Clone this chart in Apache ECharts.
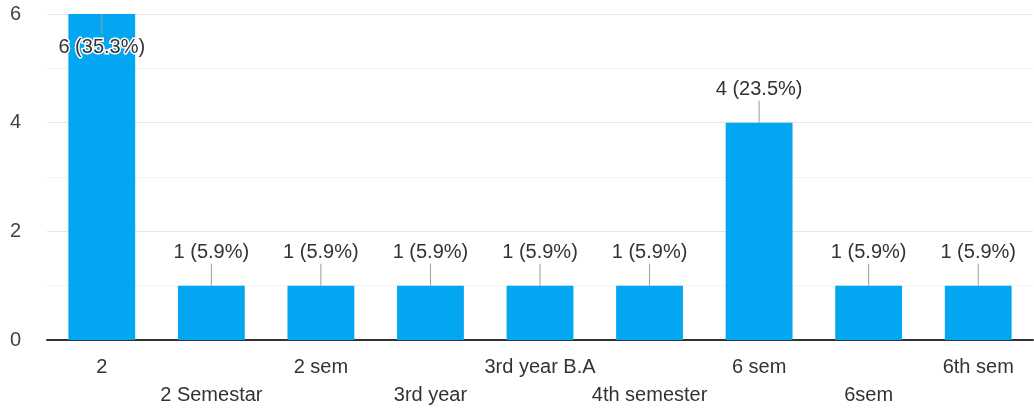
<!DOCTYPE html>
<html>
<head>
<meta charset="utf-8">
<script src="https://cdn.jsdelivr.net/npm/echarts@6/dist/echarts.min.js"></script>
<style>
  html, body { margin: 0; padding: 0; background: #fff; }
  #chart { width: 1034px; height: 412px; }
</style>
</head>
<body>
<div id="chart"></div>
<script>
// Responses per semester
const categories = ['2', '2 Semestar', '2 sem', '3rd year', '3rd year B.A', '4th semester', '6 sem', '6sem', '6th sem'];
const counts = [6, 1, 1, 1, 1, 1, 4, 1, 1];
const yTicks = [0, 2, 4, 6];

const total = counts.reduce((a, b) => a + b, 0);
const maxCount = Math.max(...counts);
const pct = v => (v / total * 100).toFixed(1);

const FONT = '"Liberation Sans", Arial, sans-serif';
const BAR_COLOR = '#03a6f0';
const LEADER = 22;

const chart = echarts.init(document.getElementById('chart'));

chart.setOption({
  animation: false,
  backgroundColor: '#fff',
  grid: { left: 47, right: 1, top: 14, bottom: 72 },
  xAxis: {
    type: 'category',
    data: categories,
    axisTick: { show: false },
    axisLine: { lineStyle: { color: '#333', width: 2 } },
    axisLabel: {
      interval: 0,
      margin: 13,
      color: '#333',
      fontFamily: FONT,
      fontSize: 20,
      lineHeight: 28,
      formatter: (v, i) => (i % 2 ? '\n' + v : v)
    }
  },
  yAxis: {
    type: 'value',
    min: yTicks[0],
    max: yTicks[yTicks.length - 1],
    interval: 2,
    axisLine: { show: false },
    axisTick: { show: false },
    axisLabel: { color: '#444', fontFamily: FONT, fontSize: 20, margin: 26 },
    splitLine: { lineStyle: { color: '#e6e6e6', width: 1 } },
    minorTick: { show: false, splitNumber: 2 },
    minorSplitLine: { show: true, lineStyle: { color: '#f3f3f3', width: 1 } }
  },
  series: [
    {
      type: 'bar',
      data: counts.map(v => {
        const inside = v === maxCount;
        return {
          value: v,
          label: inside
            ? { position: 'insideTop', distance: LEADER + 1 }
            : { position: 'top', distance: LEADER + 1 }
        };
      }),
      barWidth: '61%',
      itemStyle: { color: BAR_COLOR },
      label: {
        show: true,
        color: '#333',
        fontFamily: FONT,
        fontSize: 20,
        textBorderColor: '#fff',
        textBorderWidth: 3,
        formatter: p => p.value + ' (' + pct(p.value) + '%)'
      },
      z: 2
    },
    {
      // Leader lines between each bar top and its value label
      type: 'custom',
      data: counts.map((v, i) => [i, v]),
      z: 3,
      silent: true,
      renderItem: (params, api) => {
        const p = api.coord([api.value(0), api.value(1)]);
        const down = api.value(1) === maxCount;
        const y2 = down ? p[1] + LEADER - 2 : p[1] - LEADER;
        return {
          type: 'line',
          shape: { x1: p[0], y1: p[1], x2: p[0], y2: y2 },
          style: { stroke: '#9e9e9e', lineWidth: 1 }
        };
      }
    }
  ]
});
</script>
</body>
</html>
